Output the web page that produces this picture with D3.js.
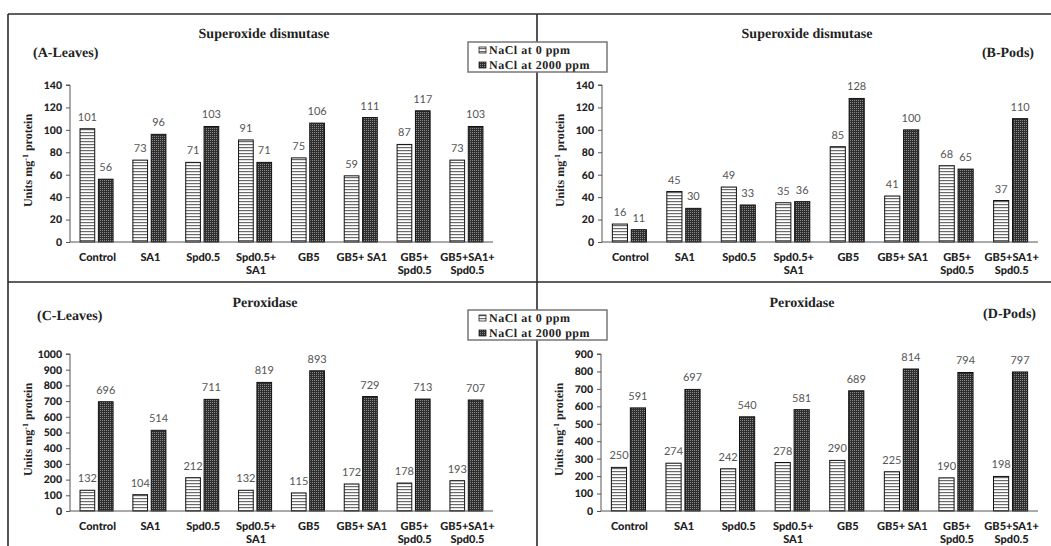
<!DOCTYPE html>
<html>
<head>
<meta charset="utf-8">
<script src="https://cdn.jsdelivr.net/npm/d3@7/dist/d3.min.js"></script>
<style>
  html, body { margin: 0; padding: 0; background: #fff; }
  svg { display: block; }
  text { text-rendering: geometricPrecision; }
</style>
</head>
<body>
<svg id="chart" width="1051" height="546"></svg>
<script>
// ---------------- DATA ----------------
const categories = ["Control", "SA1", "Spd0.5", "Spd0.5+\nSA1", "GB5", "GB5+ SA1", "GB5+\nSpd0.5", "GB5+SA1+\nSpd0.5"];
const seriesNames = ["NaCl at 0 ppm", "NaCl at 2000 ppm"];

const sodLeaves0    = [101, 73, 71, 91, 75, 59, 87, 73];
const sodLeaves2000 = [56, 96, 103, 71, 106, 111, 117, 103];
const sodPods0      = [16, 45, 49, 35, 85, 41, 68, 37];
const sodPods2000   = [11, 30, 33, 36, 128, 100, 65, 110];
const podLeaves0    = [132, 104, 212, 132, 115, 172, 178, 193];
const podLeaves2000 = [696, 514, 711, 819, 893, 729, 713, 707];
const podPods0      = [250, 274, 242, 278, 290, 225, 190, 198];
const podPods2000   = [591, 697, 540, 581, 689, 814, 794, 797];

const sodTicks       = [0, 20, 40, 60, 80, 100, 120, 140];
const podLeavesTicks = [0, 100, 200, 300, 400, 500, 600, 700, 800, 900, 1000];
const podPodsTicks   = [0, 100, 200, 300, 400, 500, 600, 700, 800, 900];

const titles = ["Superoxide dismutase", "Superoxide dismutase", "Peroxidase", "Peroxidase"];
const panelTags = ["(A-Leaves)", "(B-Pods)", "(C-Leaves)", "(D-Pods)"];

// ---------------- LAYOUT ----------------
const svg = d3.select("#chart");
const defs = svg.append("defs");

// striped pattern (0 ppm)
const pStripe = defs.append("pattern").attr("id", "stripe")
  .attr("patternUnits", "userSpaceOnUse").attr("width", 4).attr("height", 3);
pStripe.append("rect").attr("width", 4).attr("height", 3).attr("fill", "#fff");
pStripe.append("rect").attr("y", 0).attr("width", 4).attr("height", 1.2).attr("fill", "#6a6a6a");

// dotted dark pattern (2000 ppm)
const pDot = defs.append("pattern").attr("id", "dots")
  .attr("patternUnits", "userSpaceOnUse").attr("width", 2).attr("height", 2);
pDot.append("rect").attr("width", 2).attr("height", 2).attr("fill", "#2e2e2e");
pDot.append("rect").attr("width", 1).attr("height", 1).attr("fill", "#8a8a8a");

const fills = ["url(#stripe)", "url(#dots)"];

// frame
const frameColor = "#2a2a2a";
svg.append("line").attr("x1", 8).attr("x2", 1051).attr("y1", 14).attr("y2", 14)
  .attr("stroke", frameColor).attr("stroke-width", 1.6);
svg.append("line").attr("x1", 8).attr("x2", 8).attr("y1", 14).attr("y2", 546)
  .attr("stroke", frameColor).attr("stroke-width", 1.6);
svg.append("line").attr("x1", 8).attr("x2", 1051).attr("y1", 282).attr("y2", 282)
  .attr("stroke", frameColor).attr("stroke-width", 1.6);
svg.append("line").attr("x1", 537).attr("x2", 537).attr("y1", 14).attr("y2", 546)
  .attr("stroke", frameColor).attr("stroke-width", 1.6);

const panels = [
  { s0: sodLeaves0, s1: sodLeaves2000, ticks: sodTicks, max: 140,
    x: [70, 493], y: [242, 85], ylabX: 32,
    title: titles[0], titleX: 264, titleY: 38, tag: panelTags[0], tagX: 33, tagY: 57, tagAnchor: "start" },
  { s0: sodPods0, s1: sodPods2000, ticks: sodTicks, max: 140,
    x: [602, 1038], y: [242, 85], ylabX: 564,
    title: titles[1], titleX: 807, titleY: 38, tag: panelTags[1], tagX: 1034, tagY: 57, tagAnchor: "end" },
  { s0: podLeaves0, s1: podLeaves2000, ticks: podLeavesTicks, max: 1000,
    x: [70, 493], y: [511, 354], ylabX: 32,
    title: titles[2], titleX: 265, titleY: 307, tag: panelTags[2], tagX: 37, tagY: 320, tagAnchor: "start" },
  { s0: podPods0, s1: podPods2000, ticks: podPodsTicks, max: 900,
    x: [601, 1038], y: [511, 354], ylabX: 563,
    title: titles[3], titleX: 802, titleY: 307, tag: panelTags[3], tagX: 1036, tagY: 318, tagAnchor: "end" }
];

const sansFont = "Lato, 'Open Sans', sans-serif";
const serifFont = "'Liberation Serif', 'DejaVu Serif', serif";

panels.forEach(p => {
  const g = svg.append("g");
  const x0 = d3.scaleBand().domain(categories).range(p.x).paddingInner(0.375).paddingOuter(0.19);
  const x1 = d3.scaleBand().domain(seriesNames).range([0, x0.bandwidth()]).paddingInner(0.2);
  const y = d3.scaleLinear().domain([0, p.max]).range(p.y);

  // y axis
  const yAxis = d3.axisLeft(y).tickValues(p.ticks).tickSize(4).tickPadding(4).tickFormat(d3.format("d"));
  const ya = g.append("g").attr("transform", `translate(${p.x[0]},0)`).call(yAxis);
  ya.select(".domain").attr("stroke", "#555").attr("d", `M-4,${y(p.max)}H0V${y(0)}`);
  ya.selectAll(".tick line").attr("stroke", "#555");
  ya.selectAll(".tick text").attr("font-family", sansFont).attr("font-weight", "900")
    .attr("font-size", "10.5px").attr("fill", "#222");

  // bars
  const series = [p.s0, p.s1];
  series.forEach((vals, si) => {
    g.selectAll(null).data(vals).enter().append("rect")
      .attr("x", (d, i) => x0(categories[i]) + x1(seriesNames[si]))
      .attr("y", d => y(d))
      .attr("width", x1.bandwidth())
      .attr("height", d => y(0) - y(d))
      .attr("fill", fills[si])
      .attr("stroke", "#111").attr("stroke-width", 1);
    g.selectAll(null).data(vals).enter().append("text")
      .attr("x", (d, i) => x0(categories[i]) + x1(seriesNames[si]) + x1.bandwidth() / 2)
      .attr("y", d => y(d) - 8)
      .attr("text-anchor", "middle")
      .attr("font-family", sansFont).attr("font-size", "11px").attr("fill", "#555")
      .text(d => d);
  });

  // x axis line
  g.append("line").attr("x1", p.x[0]).attr("x2", p.x[1]).attr("y1", y(0)).attr("y2", y(0))
    .attr("stroke", "#555").attr("stroke-width", 1);

  // category labels
  categories.forEach(c => {
    const lines = c.split("\n");
    const cx = x0(c) + x0.bandwidth() / 2 + 1;
    const t = g.append("text")
      .attr("x", cx)
      .attr("y", y(0) + 19)
      .attr("text-anchor", "middle")
      .attr("font-family", sansFont).attr("font-weight", "900").attr("font-size", "11px")
      .attr("fill", "#222");
    lines.forEach((ln, li) => {
      t.append("tspan").attr("x", cx).attr("dy", li === 0 ? 0 : 13).text(ln);
    });
  });

  // y label
  const yl = g.append("text")
    .attr("transform", `translate(${p.ylabX},${(p.y[0] + p.y[1]) / 2 - 3}) rotate(-90)`)
    .attr("text-anchor", "middle")
    .attr("font-family", serifFont).attr("font-weight", "bold").attr("font-size", "12px")
    .attr("fill", "#222");
  yl.append("tspan").text("Units mg");
  yl.append("tspan").attr("dy", -4).attr("font-size", "8px").text("-1");
  yl.append("tspan").attr("dy", 4).text(" protein");

  // titles
  g.append("text").attr("x", p.titleX).attr("y", p.titleY).attr("text-anchor", "middle")
    .attr("font-family", serifFont).attr("font-weight", "bold").attr("font-size", "14px")
    .attr("fill", "#222").text(p.title);
  g.append("text").attr("x", p.tagX).attr("y", p.tagY).attr("text-anchor", p.tagAnchor)
    .attr("font-family", serifFont).attr("font-weight", "bold").attr("font-size", "14px")
    .attr("fill", "#222").text(p.tag);
});

// legends
function legend(top) {
  const g = svg.append("g");
  g.append("rect").attr("x", 468).attr("y", top).attr("width", 139).attr("height", 30)
    .attr("fill", "#fff").attr("stroke", "#777").attr("stroke-width", 1.5);
  seriesNames.forEach((s, i) => {
    const cy = top + 8 + i * 15;
    g.append("rect").attr("x", 479).attr("y", cy - 3).attr("width", 7).attr("height", 6)
      .attr("fill", fills[i]).attr("stroke", "#222").attr("stroke-width", 0.8);
    g.append("text").attr("x", 489).attr("y", cy + 4)
      .attr("font-family", serifFont).attr("font-weight", "bold").attr("font-size", "12px")
      .attr("letter-spacing", "0.5px").attr("fill", "#222").text(s);
  });
}
legend(42);
legend(310);
</script>
</body>
</html>
